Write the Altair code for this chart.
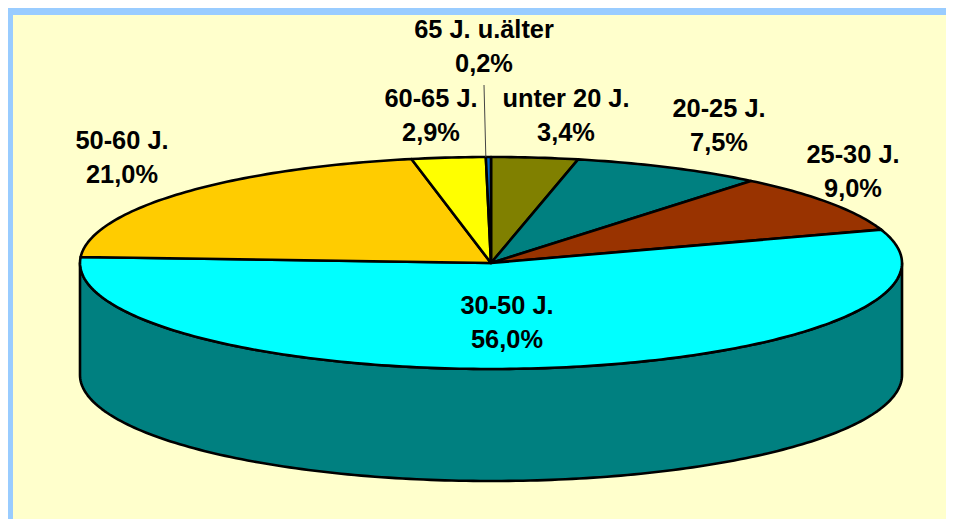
import math
import altair as alt

# Chart values
NAMES = ["unter 20 J.", "20-25 J.", "25-30 J.", "30-50 J.", "50-60 J.", "60-65 J.", "65 J. u.älter"]
SHARES = [3.4, 7.5, 9.0, 56.0, 21.0, 2.9, 0.2]

# Styles and layout (chart pixels; the page adds an 8px margin)
COLORS = ["#808000", "#008080", "#993300", "#00FFFF", "#FFCC00", "#FFFF00", "#0066CC"]
SIDE_COLOR = "#008080"
PANEL_COLOR = "#FFFFCC"
FRAME_COLOR = "#99CCFF"
CX, CY, RX, RY, DEPTH = 483, 255, 411, 106, 112
W, H = 938, 511
PANEL_LEFT, PANEL_TOP = 5, 7
LABEL_X = [558, 711, 845, 499, 114, 423, 476]
LABEL_Y = [91, 101, 147, 298, 133, 91, 22]
LEADER_TOP = [476, 77]


def pt(deg, dy=0):
    t = math.radians(deg)
    return [CX + RX * math.sin(t), CY - RY * math.cos(t) + dy]


def arc(a, b, dy=0):
    n = max(2, int(abs(b - a)) + 1)
    return [pt(a + (b - a) * i / n, dy) for i in range(n + 1)]


def feature(name, ring):
    return {"type": "Feature", "properties": {"name": name},
            "geometry": {"type": "Polygon", "coordinates": [ring]}}


def collection(items):
    return alt.InlineData(values={"type": "FeatureCollection", "features": items},
                          format=alt.DataFormat(type="json", property="features"))


side = arc(90, 270) + arc(270, 90, DEPTH)
side.append(side[0])
features = [feature("side", side)]
cum = 0.0
for name, share in zip(NAMES, SHARES):
    a, b = cum * 3.6, (cum + share) * 3.6
    features.append(feature(name, [[CX, CY]] + arc(a, b) + [[CX, CY]]))
    cum += share

panel_ring = [[PANEL_LEFT, PANEL_TOP], [W, PANEL_TOP], [W, H], [PANEL_LEFT, H], [PANEL_LEFT, PANEL_TOP]]
leader_end = pt((sum(SHARES) - SHARES[-1]) * 3.6)
leader_feature = {"type": "Feature", "properties": {"name": "leader"},
                  "geometry": {"type": "LineString", "coordinates": [LEADER_TOP, leader_end]}}

panel = alt.Chart(collection([feature("panel", panel_ring)])).mark_geoshape(
    fill=PANEL_COLOR, strokeWidth=0)

pie = alt.Chart(collection(features)).mark_geoshape(
    stroke="black", strokeWidth=2.6, strokeJoin="round"
).encode(
    color=alt.Color("properties.name:N",
                    scale=alt.Scale(domain=["side"] + NAMES, range=[SIDE_COLOR] + COLORS),
                    legend=None)
)

leader = alt.Chart(collection([leader_feature])).mark_geoshape(
    filled=False, stroke="#444444", strokeWidth=1)

labels = [{"label": n + "\n" + f"{s:.1f}".replace(".", ",") + "%", "x": x, "y": y}
          for n, s, x, y in zip(NAMES, SHARES, LABEL_X, LABEL_Y)]

text = alt.Chart(alt.Data(values=labels)).mark_text(
    font="Liberation Sans", fontWeight="bold", fontSize=25.4, color="black",
    lineBreak="\n", lineHeight=34, align="center", baseline="middle"
).encode(
    x=alt.X("x:Q", scale=None, axis=None),
    y=alt.Y("y:Q", scale=None, axis=None),
    text="label:N",
)

chart = alt.layer(panel, pie, leader, text).project(
    type="identity", scale=1, translate=[0, 0]
).properties(
    width=W, height=H, padding=0, autosize=alt.AutoSizeParams(type="none"),
    background=FRAME_COLOR,
).configure_view(stroke=None)

chart.save("out.html", embed_options={"renderer": "svg", "actions": False})
